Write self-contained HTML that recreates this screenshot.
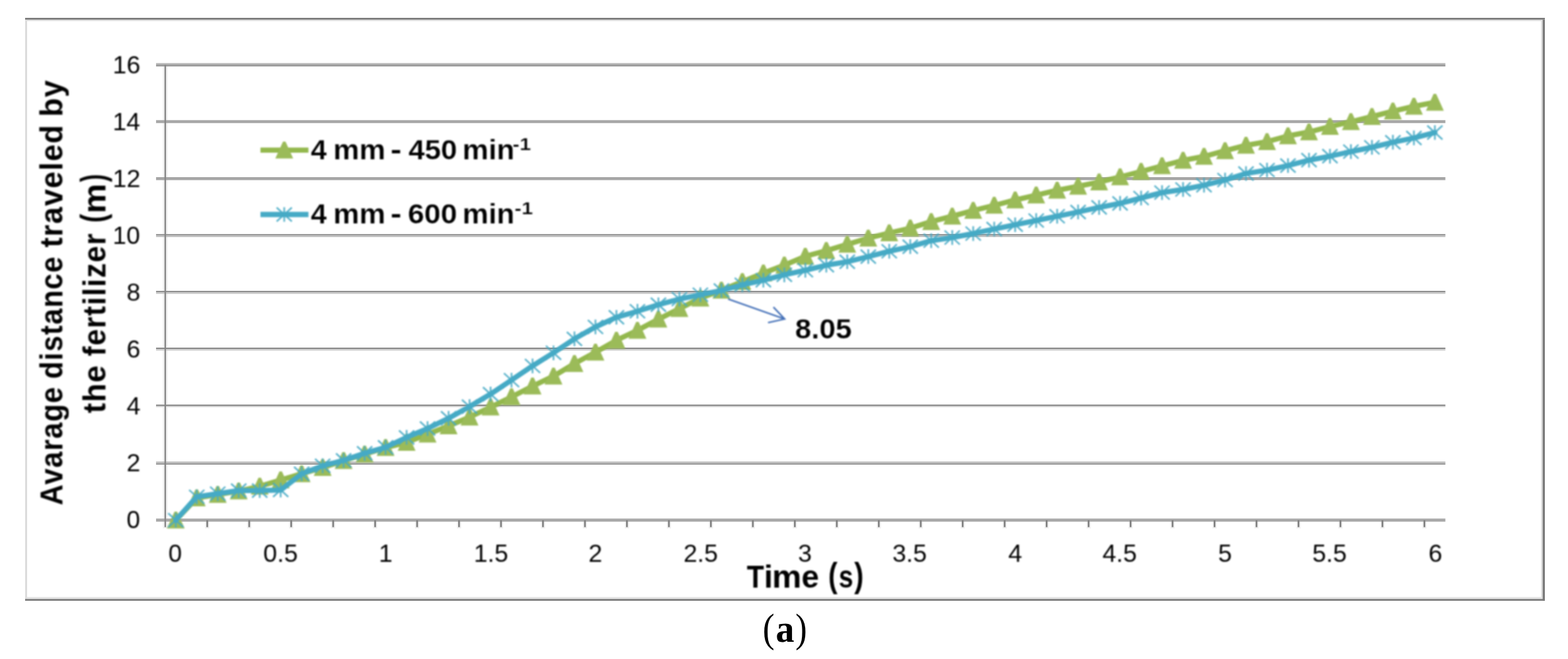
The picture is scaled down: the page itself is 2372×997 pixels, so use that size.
<!DOCTYPE html>
<html lang="en"><head><meta charset="utf-8"><title>(a)</title>
<style>
html,body{margin:0;padding:0;background:#fff;}
body{width:2372px;height:997px;}
svg{display:block;}
text{font-family:"Liberation Sans",Arial,sans-serif;fill:#000;}
.b{font-weight:bold;}
.thin{stroke:#fff;stroke-width:0.25;stroke-linejoin:round;}
.soft{filter:blur(0.8px);}
.softer{filter:blur(1.1px);}
.cap{font-family:"Liberation Serif","Times New Roman",serif;}
</style></head><body>
<svg width="2372" height="997" viewBox="0 0 2372 997">
<rect width="2372" height="997" fill="#fff"/>
<g id="frame">
<rect x="38" y="29.7" width="3" height="877" fill="#dcdcdc"/>
<rect x="38" y="29.4" width="2296" height="2.5" fill="#e0e0e0"/>
<rect x="38" y="27" width="2299" height="2.7" fill="#7a7a7a"/>
<rect x="41" y="903.2" width="2293" height="3.2" fill="#e3e3e3"/>
<rect x="2331.2" y="31.9" width="2.7" height="874.5" fill="#e0e0e0"/>
<rect x="38" y="906.2" width="2299" height="2.7" fill="#7a7a7a"/>
<rect x="2333.7" y="29.7" width="3.3" height="879.2" fill="#7a7a7a"/>
</g>
<g id="halo" fill="none" stroke="#f0f0f0">
<path d="M250 100.3V799.2" stroke-width="7"/>
<path d="M313.5 787.0V799.4M377.0 787.0V799.4M440.5 787.0V799.4M504.0 787.0V799.4M567.5 787.0V799.4M631.0 787.0V799.4M694.4 787.0V799.4M757.9 787.0V799.4M821.4 787.0V799.4M884.9 787.0V799.4M948.4 787.0V799.4M1011.9 787.0V799.4M1075.4 787.0V799.4M1138.9 787.0V799.4M1202.4 787.0V799.4M1265.9 787.0V799.4M1329.4 787.0V799.4M1392.9 787.0V799.4M1456.3 787.0V799.4M1519.8 787.0V799.4M1583.3 787.0V799.4M1646.8 787.0V799.4M1710.3 787.0V799.4M1773.8 787.0V799.4M1837.3 787.0V799.4M1900.8 787.0V799.4M1964.3 787.0V799.4M2027.8 787.0V799.4M2091.3 787.0V799.4M2154.8 787.0V799.4" stroke-width="6.4"/>
</g>
<g id="grid" fill="none">
<path d="M236.1 96.78H2186.5" stroke="#b4b4b4" stroke-width="2.55"/>
<path d="M236.1 99.32H2186.5" stroke="#989898" stroke-width="2.55"/>
<path d="M236.1 184.03H2186.5" stroke="#a8a8a8" stroke-width="4.55"/>
<path d="M236.1 270.30H2186.5" stroke="#a6a6a6" stroke-width="4.60"/>
<path d="M236.1 355.15H2186.5" stroke="#9a9a9a" stroke-width="2.30"/>
<path d="M236.1 357.45H2186.5" stroke="#b8b8b8" stroke-width="2.30"/>
<path d="M236.1 441.15H2186.5" stroke="#8f8f8f" stroke-width="2.30"/>
<path d="M236.1 443.45H2186.5" stroke="#c4c4c4" stroke-width="2.30"/>
<path d="M236.1 525.55H2186.5" stroke="#f0f0f0" stroke-width="0.90"/>
<path d="M236.1 527.05H2186.5" stroke="#8a8a8a" stroke-width="2.10"/>
<path d="M236.1 529.35H2186.5" stroke="#d0d0d0" stroke-width="2.50"/>
<path d="M236.1 611.50H2186.5" stroke="#ececec" stroke-width="1.60"/>
<path d="M236.1 613.55H2186.5" stroke="#8a8a8a" stroke-width="2.50"/>
<path d="M236.1 615.80H2186.5" stroke="#ececec" stroke-width="2.00"/>
<path d="M236.1 699.55H2186.5" stroke="#bcbcbc" stroke-width="2.50"/>
<path d="M236.1 701.95H2186.5" stroke="#9a9a9a" stroke-width="2.30"/>
<path d="M236.1 786.95H2186.5" stroke="#a9a9a9" stroke-width="4.70"/>
</g>
<g id="axes" fill="none">
<path d="M250 98.0V797.6" stroke="#868686" stroke-width="2.3"/>
<path d="M313.5 787.0V797.4M377.0 787.0V797.4M440.5 787.0V797.4M504.0 787.0V797.4M567.5 787.0V797.4M631.0 787.0V797.4M694.4 787.0V797.4M757.9 787.0V797.4M821.4 787.0V797.4M884.9 787.0V797.4M948.4 787.0V797.4M1011.9 787.0V797.4M1075.4 787.0V797.4M1138.9 787.0V797.4M1202.4 787.0V797.4M1265.9 787.0V797.4M1329.4 787.0V797.4M1392.9 787.0V797.4M1456.3 787.0V797.4M1519.8 787.0V797.4M1583.3 787.0V797.4M1646.8 787.0V797.4M1710.3 787.0V797.4M1773.8 787.0V797.4M1837.3 787.0V797.4M1900.8 787.0V797.4M1964.3 787.0V797.4M2027.8 787.0V797.4M2091.3 787.0V797.4M2154.8 787.0V797.4" stroke="#808080" stroke-width="2.6"/>
</g>
<g id="plot" class="softer">
<g id="series-450">
<polyline points="265.9,787.0 297.6,753.4 329.4,748.2 361.1,743.0 392.9,735.7 424.6,726.2 456.3,716.8 488.1,707.3 519.8,697.0 551.6,687.1 583.3,677.2 615.1,669.4 646.8,656.9 678.6,644.4 710.3,631.1 742.1,616.0 773.8,600.5 805.6,584.2 837.3,569.1 869.0,550.1 900.8,532.9 932.5,514.8 964.3,499.8 996.0,483.0 1027.8,467.0 1059.5,451.1 1091.3,439.1 1123.0,426.1 1154.8,413.2 1186.5,401.2 1218.2,387.8 1250.0,379.2 1281.7,369.7 1313.5,360.3 1345.2,352.5 1377.0,345.2 1408.7,335.3 1440.5,327.1 1472.2,318.5 1504.0,310.7 1535.7,302.6 1567.5,295.2 1599.2,287.9 1630.9,281.9 1662.7,275.4 1694.4,267.7 1726.2,259.5 1757.9,250.9 1789.7,242.7 1821.4,236.7 1853.2,228.1 1884.9,219.9 1916.7,214.3 1948.4,205.7 1980.2,199.7 2011.9,191.5 2043.6,184.2 2075.4,176.4 2107.1,168.2 2138.9,160.9 2170.6,154.9" fill="none" stroke="#93b84d" stroke-width="7.8" stroke-linejoin="round" stroke-linecap="round"/>
<path d="M264.0 774.1h3.8l11.6 25.5h-27zM295.7 740.5h3.8l11.6 25.5h-27zM327.5 735.3h3.8l11.6 25.5h-27zM359.2 730.1h3.8l11.6 25.5h-27zM391.0 722.8h3.8l11.6 25.5h-27zM422.7 713.3h3.8l11.6 25.5h-27zM454.4 703.9h3.8l11.6 25.5h-27zM486.2 694.4h3.8l11.6 25.5h-27zM517.9 684.1h3.8l11.6 25.5h-27zM549.7 674.2h3.8l11.6 25.5h-27zM581.4 664.3h3.8l11.6 25.5h-27zM613.2 656.5h3.8l11.6 25.5h-27zM644.9 644.0h3.8l11.6 25.5h-27zM676.7 631.5h3.8l11.6 25.5h-27zM708.4 618.2h3.8l11.6 25.5h-27zM740.2 603.1h3.8l11.6 25.5h-27zM771.9 587.6h3.8l11.6 25.5h-27zM803.7 571.3h3.8l11.6 25.5h-27zM835.4 556.2h3.8l11.6 25.5h-27zM867.1 537.2h3.8l11.6 25.5h-27zM898.9 520.0h3.8l11.6 25.5h-27zM930.6 501.9h3.8l11.6 25.5h-27zM962.4 486.9h3.8l11.6 25.5h-27zM994.1 470.1h3.8l11.6 25.5h-27zM1025.9 454.1h3.8l11.6 25.5h-27zM1057.6 438.2h3.8l11.6 25.5h-27zM1089.4 426.2h3.8l11.6 25.5h-27zM1121.1 413.2h3.8l11.6 25.5h-27zM1152.9 400.3h3.8l11.6 25.5h-27zM1184.6 388.3h3.8l11.6 25.5h-27zM1216.3 374.9h3.8l11.6 25.5h-27zM1248.1 366.3h3.8l11.6 25.5h-27zM1279.8 356.8h3.8l11.6 25.5h-27zM1311.6 347.4h3.8l11.6 25.5h-27zM1343.3 339.6h3.8l11.6 25.5h-27zM1375.1 332.3h3.8l11.6 25.5h-27zM1406.8 322.4h3.8l11.6 25.5h-27zM1438.6 314.2h3.8l11.6 25.5h-27zM1470.3 305.6h3.8l11.6 25.5h-27zM1502.1 297.8h3.8l11.6 25.5h-27zM1533.8 289.7h3.8l11.6 25.5h-27zM1565.6 282.3h3.8l11.6 25.5h-27zM1597.3 275.0h3.8l11.6 25.5h-27zM1629.0 269.0h3.8l11.6 25.5h-27zM1660.8 262.5h3.8l11.6 25.5h-27zM1692.5 254.8h3.8l11.6 25.5h-27zM1724.3 246.6h3.8l11.6 25.5h-27zM1756.0 238.0h3.8l11.6 25.5h-27zM1787.8 229.8h3.8l11.6 25.5h-27zM1819.5 223.8h3.8l11.6 25.5h-27zM1851.3 215.2h3.8l11.6 25.5h-27zM1883.0 207.0h3.8l11.6 25.5h-27zM1914.8 201.4h3.8l11.6 25.5h-27zM1946.5 192.8h3.8l11.6 25.5h-27zM1978.3 186.8h3.8l11.6 25.5h-27zM2010.0 178.6h3.8l11.6 25.5h-27zM2041.7 171.3h3.8l11.6 25.5h-27zM2073.5 163.5h3.8l11.6 25.5h-27zM2105.2 155.3h3.8l11.6 25.5h-27zM2137.0 148.0h3.8l11.6 25.5h-27zM2168.7 142.0h3.8l11.6 25.5h-27z" fill="#9bbb59"/>
</g>
<g id="series-600">
<polyline points="265.9,787.0 297.6,751.6 329.4,746.9 361.1,742.2 392.9,742.2 424.6,741.3 456.3,716.8 488.1,704.7 519.8,696.5 551.6,685.8 583.3,676.7 615.1,661.7 646.8,648.3 678.6,632.8 710.3,615.2 742.1,596.2 773.8,575.1 805.6,553.6 837.3,533.8 869.0,512.7 900.8,494.6 932.5,480.0 964.3,470.9 996.0,461.0 1027.8,452.4 1059.5,445.9 1091.3,439.5 1123.0,430.9 1154.8,424.0 1186.5,415.8 1218.2,408.9 1250.0,401.2 1281.7,396.0 1313.5,388.2 1345.2,380.1 1377.0,373.2 1408.7,364.1 1440.5,359.4 1472.2,353.4 1504.0,346.5 1535.7,340.0 1567.5,333.6 1599.2,327.1 1630.9,320.7 1662.7,313.8 1694.4,307.7 1726.2,299.6 1757.9,291.4 1789.7,286.6 1821.4,280.2 1853.2,272.4 1884.9,262.5 1916.7,257.4 1948.4,250.5 1980.2,242.3 2011.9,236.3 2043.6,229.4 2075.4,222.9 2107.1,215.2 2138.9,208.7 2170.6,200.5" fill="none" stroke="#46aac5" stroke-width="7.8" stroke-linejoin="round" stroke-linecap="round"/>
<path d="M254.4 776.5l23.0 21.0m0 -21.0l-23.0 21.0m11.5 -21.6v22.2M286.1 741.1l23.0 21.0m0 -21.0l-23.0 21.0m11.5 -21.6v22.2M317.9 736.4l23.0 21.0m0 -21.0l-23.0 21.0m11.5 -21.6v22.2M349.6 731.7l23.0 21.0m0 -21.0l-23.0 21.0m11.5 -21.6v22.2M381.4 731.7l23.0 21.0m0 -21.0l-23.0 21.0m11.5 -21.6v22.2M413.1 730.8l23.0 21.0m0 -21.0l-23.0 21.0m11.5 -21.6v22.2M444.8 706.3l23.0 21.0m0 -21.0l-23.0 21.0m11.5 -21.6v22.2M476.6 694.2l23.0 21.0m0 -21.0l-23.0 21.0m11.5 -21.6v22.2M508.3 686.0l23.0 21.0m0 -21.0l-23.0 21.0m11.5 -21.6v22.2M540.1 675.3l23.0 21.0m0 -21.0l-23.0 21.0m11.5 -21.6v22.2M571.8 666.2l23.0 21.0m0 -21.0l-23.0 21.0m11.5 -21.6v22.2M603.6 651.2l23.0 21.0m0 -21.0l-23.0 21.0m11.5 -21.6v22.2M635.3 637.8l23.0 21.0m0 -21.0l-23.0 21.0m11.5 -21.6v22.2M667.1 622.3l23.0 21.0m0 -21.0l-23.0 21.0m11.5 -21.6v22.2M698.8 604.7l23.0 21.0m0 -21.0l-23.0 21.0m11.5 -21.6v22.2M730.6 585.7l23.0 21.0m0 -21.0l-23.0 21.0m11.5 -21.6v22.2M762.3 564.6l23.0 21.0m0 -21.0l-23.0 21.0m11.5 -21.6v22.2M794.1 543.1l23.0 21.0m0 -21.0l-23.0 21.0m11.5 -21.6v22.2M825.8 523.3l23.0 21.0m0 -21.0l-23.0 21.0m11.5 -21.6v22.2M857.5 502.2l23.0 21.0m0 -21.0l-23.0 21.0m11.5 -21.6v22.2M889.3 484.1l23.0 21.0m0 -21.0l-23.0 21.0m11.5 -21.6v22.2M921.0 469.5l23.0 21.0m0 -21.0l-23.0 21.0m11.5 -21.6v22.2M952.8 460.4l23.0 21.0m0 -21.0l-23.0 21.0m11.5 -21.6v22.2M984.5 450.5l23.0 21.0m0 -21.0l-23.0 21.0m11.5 -21.6v22.2M1016.3 441.9l23.0 21.0m0 -21.0l-23.0 21.0m11.5 -21.6v22.2M1048.0 435.4l23.0 21.0m0 -21.0l-23.0 21.0m11.5 -21.6v22.2M1079.8 429.0l23.0 21.0m0 -21.0l-23.0 21.0m11.5 -21.6v22.2M1111.5 420.4l23.0 21.0m0 -21.0l-23.0 21.0m11.5 -21.6v22.2M1143.3 413.5l23.0 21.0m0 -21.0l-23.0 21.0m11.5 -21.6v22.2M1175.0 405.3l23.0 21.0m0 -21.0l-23.0 21.0m11.5 -21.6v22.2M1206.8 398.4l23.0 21.0m0 -21.0l-23.0 21.0m11.5 -21.6v22.2M1238.5 390.7l23.0 21.0m0 -21.0l-23.0 21.0m11.5 -21.6v22.2M1270.2 385.5l23.0 21.0m0 -21.0l-23.0 21.0m11.5 -21.6v22.2M1302.0 377.7l23.0 21.0m0 -21.0l-23.0 21.0m11.5 -21.6v22.2M1333.7 369.6l23.0 21.0m0 -21.0l-23.0 21.0m11.5 -21.6v22.2M1365.5 362.7l23.0 21.0m0 -21.0l-23.0 21.0m11.5 -21.6v22.2M1397.2 353.6l23.0 21.0m0 -21.0l-23.0 21.0m11.5 -21.6v22.2M1429.0 348.9l23.0 21.0m0 -21.0l-23.0 21.0m11.5 -21.6v22.2M1460.7 342.9l23.0 21.0m0 -21.0l-23.0 21.0m11.5 -21.6v22.2M1492.5 336.0l23.0 21.0m0 -21.0l-23.0 21.0m11.5 -21.6v22.2M1524.2 329.5l23.0 21.0m0 -21.0l-23.0 21.0m11.5 -21.6v22.2M1556.0 323.1l23.0 21.0m0 -21.0l-23.0 21.0m11.5 -21.6v22.2M1587.7 316.6l23.0 21.0m0 -21.0l-23.0 21.0m11.5 -21.6v22.2M1619.4 310.2l23.0 21.0m0 -21.0l-23.0 21.0m11.5 -21.6v22.2M1651.2 303.3l23.0 21.0m0 -21.0l-23.0 21.0m11.5 -21.6v22.2M1682.9 297.2l23.0 21.0m0 -21.0l-23.0 21.0m11.5 -21.6v22.2M1714.7 289.1l23.0 21.0m0 -21.0l-23.0 21.0m11.5 -21.6v22.2M1746.4 280.9l23.0 21.0m0 -21.0l-23.0 21.0m11.5 -21.6v22.2M1778.2 276.1l23.0 21.0m0 -21.0l-23.0 21.0m11.5 -21.6v22.2M1809.9 269.7l23.0 21.0m0 -21.0l-23.0 21.0m11.5 -21.6v22.2M1841.7 261.9l23.0 21.0m0 -21.0l-23.0 21.0m11.5 -21.6v22.2M1873.4 252.0l23.0 21.0m0 -21.0l-23.0 21.0m11.5 -21.6v22.2M1905.2 246.9l23.0 21.0m0 -21.0l-23.0 21.0m11.5 -21.6v22.2M1936.9 240.0l23.0 21.0m0 -21.0l-23.0 21.0m11.5 -21.6v22.2M1968.7 231.8l23.0 21.0m0 -21.0l-23.0 21.0m11.5 -21.6v22.2M2000.4 225.8l23.0 21.0m0 -21.0l-23.0 21.0m11.5 -21.6v22.2M2032.1 218.9l23.0 21.0m0 -21.0l-23.0 21.0m11.5 -21.6v22.2M2063.9 212.4l23.0 21.0m0 -21.0l-23.0 21.0m11.5 -21.6v22.2M2095.6 204.7l23.0 21.0m0 -21.0l-23.0 21.0m11.5 -21.6v22.2M2127.4 198.2l23.0 21.0m0 -21.0l-23.0 21.0m11.5 -21.6v22.2M2159.1 190.0l23.0 21.0m0 -21.0l-23.0 21.0m11.5 -21.6v22.2" fill="none" stroke="#46aac5" stroke-width="2.6" stroke-opacity="0.88"/>
</g>
<g id="legend-keys">
<path d="M394 227.1H466.6" stroke="#93b84d" stroke-width="7.8"/>
<path d="M428.1 214.2h3.8l11.6 25.5h-27z" fill="#9bbb59"/>
<path d="M394 324.5H466.6" stroke="#46aac5" stroke-width="7.8"/>
<path d="M418.5 314.0l23.0 21.0m0 -21.0l-23.0 21.0m11.5 -21.6v22.2" fill="none" stroke="#46aac5" stroke-width="2.6" stroke-opacity="0.88"/>
<path d="M1101.5 452.3L1187 482.6M1170 464.6L1187 482.6L1161.8 488.2" fill="none" stroke="#4571b8" stroke-width="2.4"/>
</g>
</g>
<g id="labels" class="soft">
<g id="legend">
<text class="b thin" y="240.9" font-size="41.8"><tspan x="470.23" textLength="24.01" lengthAdjust="spacingAndGlyphs">4</tspan> <tspan x="503.96" textLength="79.24" lengthAdjust="spacingAndGlyphs">mm</tspan> <tspan x="590.89" textLength="16.83" lengthAdjust="spacingAndGlyphs">-</tspan> <tspan x="618.02" textLength="73.41" lengthAdjust="spacingAndGlyphs">450</tspan> <tspan x="699.57" textLength="78.85" lengthAdjust="spacingAndGlyphs">min</tspan><tspan x="775.61" y="226.5" font-size="26.0" textLength="27.54" lengthAdjust="spacingAndGlyphs">-1</tspan></text>
<text class="b thin" y="338.2" font-size="41.8"><tspan x="470.23" textLength="24.01" lengthAdjust="spacingAndGlyphs">4</tspan> <tspan x="503.96" textLength="79.24" lengthAdjust="spacingAndGlyphs">mm</tspan> <tspan x="590.89" textLength="16.83" lengthAdjust="spacingAndGlyphs">-</tspan> <tspan x="617.00" textLength="74.46" lengthAdjust="spacingAndGlyphs">600</tspan> <tspan x="699.57" textLength="78.85" lengthAdjust="spacingAndGlyphs">min</tspan><tspan x="778.61" y="323.8" font-size="26.0" textLength="27.54" lengthAdjust="spacingAndGlyphs">-1</tspan></text>
</g>
<g id="annot">
<text class="b thin" y="511.8" font-size="41.8"><tspan x="1202.83" textLength="85.77" lengthAdjust="spacingAndGlyphs">8.05</tspan></text>
</g>
<g id="yticks">
<text y="110.8" font-size="36.0"><tspan x="170.57" textLength="41.74" lengthAdjust="spacingAndGlyphs">16</tspan></text>
<text y="196.9" font-size="36.0"><tspan x="170.59" textLength="41.57" lengthAdjust="spacingAndGlyphs">14</tspan></text>
<text y="282.8" font-size="36.0"><tspan x="170.56" textLength="41.93" lengthAdjust="spacingAndGlyphs">12</tspan></text>
<text y="368.7" font-size="36.0"><tspan x="170.61" textLength="41.16" lengthAdjust="spacingAndGlyphs">10</tspan></text>
<text y="454.6" font-size="36.0"><tspan x="191.44" textLength="20.87" lengthAdjust="spacingAndGlyphs">8</tspan></text>
<text y="540.6" font-size="36.0"><tspan x="191.44" textLength="20.86" lengthAdjust="spacingAndGlyphs">6</tspan></text>
<text y="626.7" font-size="36.0"><tspan x="191.43" textLength="21.10" lengthAdjust="spacingAndGlyphs">4</tspan></text>
<text y="713.4" font-size="36.0"><tspan x="191.44" textLength="20.89" lengthAdjust="spacingAndGlyphs">2</tspan></text>
<text y="799.3" font-size="36.0"><tspan x="191.42" textLength="20.43" lengthAdjust="spacingAndGlyphs">0</tspan></text>
</g>
<g id="xticks">
<text y="850.2" font-size="36.0"><tspan x="254.75" textLength="20.43" lengthAdjust="spacingAndGlyphs">0</tspan></text>
<text y="850.2" font-size="36.0"><tspan x="398.39" textLength="52.17" lengthAdjust="spacingAndGlyphs">0.5</tspan></text>
<text y="850.2" font-size="36.0"><tspan x="573.06" textLength="20.88" lengthAdjust="spacingAndGlyphs">1</tspan></text>
<text y="850.2" font-size="36.0"><tspan x="716.73" textLength="52.13" lengthAdjust="spacingAndGlyphs">1.5</tspan></text>
<text y="850.2" font-size="36.0"><tspan x="890.37" textLength="20.89" lengthAdjust="spacingAndGlyphs">2</tspan></text>
<text y="850.2" font-size="36.0"><tspan x="1034.03" textLength="52.12" lengthAdjust="spacingAndGlyphs">2.5</tspan></text>
<text y="850.2" font-size="36.0"><tspan x="1207.36" textLength="20.88" lengthAdjust="spacingAndGlyphs">3</tspan></text>
<text y="850.2" font-size="36.0"><tspan x="1350.02" textLength="52.13" lengthAdjust="spacingAndGlyphs">3.5</tspan></text>
<text y="850.2" font-size="36.0"><tspan x="1525.26" textLength="21.10" lengthAdjust="spacingAndGlyphs">4</tspan></text>
<text y="850.2" font-size="36.0"><tspan x="1667.73" textLength="52.13" lengthAdjust="spacingAndGlyphs">4.5</tspan></text>
<text y="850.2" font-size="36.0"><tspan x="1842.87" textLength="20.87" lengthAdjust="spacingAndGlyphs">5</tspan></text>
<text y="850.2" font-size="36.0"><tspan x="1985.23" textLength="52.13" lengthAdjust="spacingAndGlyphs">5.5</tspan></text>
<text y="850.2" font-size="36.0"><tspan x="2160.97" textLength="20.86" lengthAdjust="spacingAndGlyphs">6</tspan></text>
</g>
<g id="titles">
<text class="b" y="888.8" font-size="48.5" letter-spacing="1.5"><tspan x="1129.71" textLength="27.37" lengthAdjust="spacingAndGlyphs">T</tspan><tspan x="1155.82" textLength="14.88" lengthAdjust="spacingAndGlyphs">i</tspan><tspan x="1167.91" textLength="45.94" lengthAdjust="spacingAndGlyphs">m</tspan><tspan x="1212.52" textLength="27.93" lengthAdjust="spacingAndGlyphs">e</tspan> <tspan x="1253.10" y="887.6" font-size="52.0" textLength="15.13" lengthAdjust="spacingAndGlyphs">(</tspan><tspan x="1268.84" y="888.8" font-size="48.5" textLength="23.20" lengthAdjust="spacingAndGlyphs">s</tspan><tspan x="1292.30" y="887.6" font-size="52.0" textLength="15.44" lengthAdjust="spacingAndGlyphs">)</tspan></text>
<text class="b" transform="translate(94.4 763.9) rotate(-90)" y="0.0" font-size="48.5" letter-spacing="1.5"><tspan x="-0.60" textLength="180.19" lengthAdjust="spacingAndGlyphs">Avarage</tspan> <tspan x="190.82" textLength="186.06" lengthAdjust="spacingAndGlyphs">distance</tspan> <tspan x="389.43" textLength="186.75" lengthAdjust="spacingAndGlyphs">traveled</tspan> <tspan x="587.14" textLength="56.79" lengthAdjust="spacingAndGlyphs">by</tspan></text>
<text class="b" transform="translate(159.5 624.9) rotate(-90)" y="0.0" font-size="48.5" letter-spacing="1.5"><tspan x="-0.27" textLength="73.85" lengthAdjust="spacingAndGlyphs">the</tspan> <tspan x="85.94" textLength="186.96" lengthAdjust="spacingAndGlyphs">fertilizer</tspan> <tspan x="287.89" y="-1.2" font-size="52.0" textLength="14.48" lengthAdjust="spacingAndGlyphs">(</tspan><tspan x="302.06" y="0.0" font-size="48.5" textLength="46.66" lengthAdjust="spacingAndGlyphs">m</tspan><tspan x="349.50" y="-1.2" font-size="52.0" textLength="13.05" lengthAdjust="spacingAndGlyphs">)</tspan></text>
</g>
</g>
<g id="caption">
<text class="cap" y="971.0" font-size="61.0"><tspan x="1153.81" textLength="17.95" lengthAdjust="spacingAndGlyphs">(</tspan><tspan x="1173.47" y="970.6" font-size="59.5" font-weight="bold" textLength="28.04" lengthAdjust="spacingAndGlyphs">a</tspan><tspan x="1203.31" y="971.0" textLength="17.50" lengthAdjust="spacingAndGlyphs">)</tspan></text>
</g>
</svg>
</body></html>
